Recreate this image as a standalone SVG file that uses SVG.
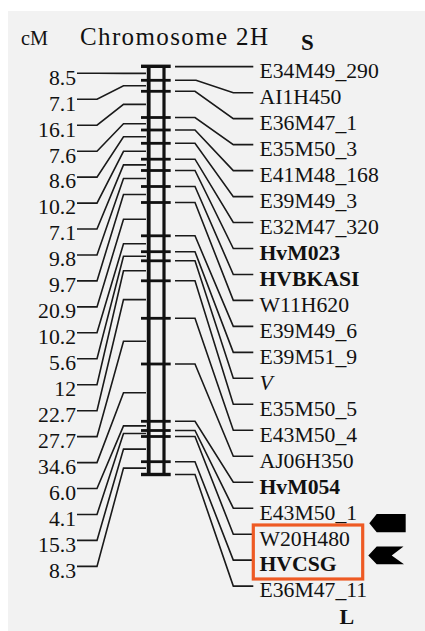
<svg xmlns="http://www.w3.org/2000/svg" width="425" height="631" viewBox="0 0 425 631">
<style>
text{font-family:"Liberation Serif","Times New Roman",serif;fill:#111}
.lb{font-size:21.7px}
.iv{font-size:21.7px;text-anchor:end}
.b{font-weight:bold}
.ld{fill:none;stroke:#1a1a1a;stroke-width:1.6;stroke-linejoin:miter}
.rail{stroke:#111;fill:none}
.tk{stroke:#111;stroke-width:2.8}
</style>
<rect x="8" y="11" width="417" height="620" fill="#f2f2f2"/>
<g id="header">
<text x="21" y="45" font-size="20" textLength="27" lengthAdjust="spacingAndGlyphs">cM</text>
<text x="80" y="45" font-size="25" textLength="188" lengthAdjust="spacing">Chromosome 2H</text>
<text x="301" y="50" font-size="23" class="b">S</text>
<text x="339.5" y="624" font-size="22" class="b">L</text>
</g>
<g id="chromosome">
<line class="rail" x1="148.7" y1="65" x2="148.7" y2="476" stroke-width="3.8"/>
<line class="rail" x1="164" y1="65" x2="164" y2="476" stroke-width="3.2"/>
<g class="tk">
<line x1="141" y1="66.3" x2="170.7" y2="66.3" stroke-width="3.4"/>
<line x1="141" y1="80.3" x2="170.7" y2="80.3"/>
<line x1="141" y1="91.3" x2="170.7" y2="91.3"/>
<line x1="141" y1="117.5" x2="170.7" y2="117.5"/>
<line x1="141" y1="130" x2="170.7" y2="130"/>
<line x1="141" y1="143.3" x2="170.7" y2="143.3"/>
<line x1="141" y1="159.2" x2="170.7" y2="159.2"/>
<line x1="141" y1="170.5" x2="170.7" y2="170.5"/>
<line x1="141" y1="186.5" x2="170.7" y2="186.5"/>
<line x1="141" y1="202.5" x2="170.7" y2="202.5"/>
<line x1="141" y1="235.8" x2="170.7" y2="235.8"/>
<line x1="141" y1="251.7" x2="170.7" y2="251.7"/>
<line x1="141" y1="260.8" x2="170.7" y2="260.8"/>
<line x1="141" y1="280.8" x2="170.7" y2="280.8"/>
<line x1="141" y1="318.3" x2="170.7" y2="318.3"/>
<line x1="141" y1="364" x2="170.7" y2="364"/>
<line x1="141" y1="421.3" x2="170.7" y2="421.3"/>
<line x1="141" y1="430.5" x2="170.7" y2="430.5"/>
<line x1="141" y1="436.5" x2="170.7" y2="436.5"/>
<line x1="141" y1="461.7" x2="170.7" y2="461.7"/>
<line x1="141" y1="474.5" x2="170.7" y2="474.5" stroke-width="3.4"/>
</g>
</g>
<g id="connectors" class="ld">
<polyline points="175,66.6 253.3,66.6"/>
<polyline points="175,80.3 196,80.3 233.3,92.7 253.3,92.7"/>
<polyline points="175,91.3 195,91.3 233.3,118.6 253.3,118.6"/>
<polyline points="175,117.5 195,117.5 233.3,144.6 253.3,144.6"/>
<polyline points="175,130 195,130 233.3,170.6 253.3,170.6"/>
<polyline points="175,143.3 195,143.3 233.3,196.6 253.3,196.6"/>
<polyline points="175,159.2 195,159.2 233.3,222.5 253.3,222.5"/>
<polyline points="175,170.5 195,170.5 233.3,248.5 253.3,248.5"/>
<polyline points="175,186.5 195,186.5 233.3,274.5 253.3,274.5"/>
<polyline points="175,202.5 195,202.5 233.3,300.4 253.3,300.4"/>
<polyline points="175,235.8 195,235.8 233.3,326.4 253.3,326.4"/>
<polyline points="175,251.7 195,251.7 233.3,352.4 253.3,352.4"/>
<polyline points="175,260.8 195,260.8 233.3,378.3 253.3,378.3"/>
<polyline points="175,280.8 195,280.8 233.3,404.3 253.3,404.3"/>
<polyline points="175,318.3 195,318.3 233.3,430.3 253.3,430.3"/>
<polyline points="175,364 195,364 233.3,456.3 253.3,456.3"/>
<polyline points="175,421.3 195,421.3 233.3,482.2 253.3,482.2"/>
<polyline points="175,430.5 195,430.5 233.3,508.2 253.3,508.2"/>
<polyline points="175,436.5 195,436.5 233.3,534.2 253.3,534.2"/>
<polyline points="175,461.7 195,461.7 233.3,560.1 253.3,560.1"/>
<polyline points="175,474.5 195,474.5 233.3,586.1 253.3,586.1"/>
<polyline points="77,73.3 97,73.3 123.5,73.4 146,73.4"/>
<polyline points="77,99.3 97,99.3 123.5,85.8 146,85.8"/>
<polyline points="77,125.2 97,125.2 123.5,104.4 146,104.4"/>
<polyline points="77,151.2 97,151.2 123.5,123.8 146,123.8"/>
<polyline points="77,177.1 97,177.1 123.5,136.7 146,136.7"/>
<polyline points="77,203.1 97,203.1 123.5,151.3 146,151.3"/>
<polyline points="77,229 97,229 123.5,164.9 146,164.9"/>
<polyline points="77,255 97,255 123.5,178.5 146,178.5"/>
<polyline points="77,280.9 97,280.9 123.5,194.5 146,194.5"/>
<polyline points="77,306.9 97,306.9 123.5,219.2 146,219.2"/>
<polyline points="77,332.8 97,332.8 123.5,243.8 146,243.8"/>
<polyline points="77,358.8 97,358.8 123.5,256.3 146,256.3"/>
<polyline points="77,384.7 97,384.7 123.5,270.8 146,270.8"/>
<polyline points="77,410.7 97,410.7 123.5,299.6 146,299.6"/>
<polyline points="77,436.6 97,436.6 123.5,341.2 146,341.2"/>
<polyline points="77,462.6 97,462.6 123.5,392.7 146,392.7"/>
<polyline points="77,488.5 97,488.5 123.5,425.9 146,425.9"/>
<polyline points="77,514.5 97,514.5 123.5,433.5 146,433.5"/>
<polyline points="77,540.4 97,540.4 123.5,449.1 146,449.1"/>
<polyline points="77,566.4 97,566.4 123.5,468.1 146,468.1"/>
</g>
<g id="intervals">
<g id="iv-0"><text class="iv" x="76" y="84.6">8.5</text></g>
<g id="iv-1"><text class="iv" x="76" y="110.6">7.1</text></g>
<g id="iv-2"><text class="iv" x="76" y="136.5">16.1</text></g>
<g id="iv-3"><text class="iv" x="76" y="162.5">7.6</text></g>
<g id="iv-4"><text class="iv" x="76" y="188.4">8.6</text></g>
<g id="iv-5"><text class="iv" x="76" y="214.4">10.2</text></g>
<g id="iv-6"><text class="iv" x="76" y="240.3">7.1</text></g>
<g id="iv-7"><text class="iv" x="76" y="266.3">9.8</text></g>
<g id="iv-8"><text class="iv" x="76" y="292.2">9.7</text></g>
<g id="iv-9"><text class="iv" x="76" y="318.2">20.9</text></g>
<g id="iv-10"><text class="iv" x="76" y="344.1">10.2</text></g>
<g id="iv-11"><text class="iv" x="76" y="370.1">5.6</text></g>
<g id="iv-12"><text class="iv" x="76" y="396">12</text></g>
<g id="iv-13"><text class="iv" x="76" y="422">22.7</text></g>
<g id="iv-14"><text class="iv" x="76" y="447.9">27.7</text></g>
<g id="iv-15"><text class="iv" x="76" y="473.9">34.6</text></g>
<g id="iv-16"><text class="iv" x="76" y="499.8">6.0</text></g>
<g id="iv-17"><text class="iv" x="76" y="525.8">4.1</text></g>
<g id="iv-18"><text class="iv" x="76" y="551.7">15.3</text></g>
<g id="iv-19"><text class="iv" x="76" y="577.7">8.3</text></g>
</g>
<g id="markers">
<g id="mk-E34M49_290"><text class="lb" x="259.5" y="78">E34M49_290</text></g>
<g id="mk-AI1H450"><text class="lb" x="259.5" y="104">AI1H450</text></g>
<g id="mk-E36M47_1"><text class="lb" x="259.5" y="129.9">E36M47_1</text></g>
<g id="mk-E35M50_3"><text class="lb" x="259.5" y="155.9">E35M50_3</text></g>
<g id="mk-E41M48_168"><text class="lb" x="259.5" y="181.9">E41M48_168</text></g>
<g id="mk-E39M49_3"><text class="lb" x="259.5" y="207.9">E39M49_3</text></g>
<g id="mk-E32M47_320"><text class="lb" x="259.5" y="233.8">E32M47_320</text></g>
<g id="mk-HvM023"><text class="lb b" x="259.5" y="259.8">HvM023</text></g>
<g id="mk-HVBKASI"><text class="lb b" x="259.5" y="285.8">HVBKASI</text></g>
<g id="mk-W11H620"><text class="lb" x="259.5" y="311.7">W11H620</text></g>
<g id="mk-E39M49_6"><text class="lb" x="259.5" y="337.7">E39M49_6</text></g>
<g id="mk-E39M51_9"><text class="lb" x="259.5" y="363.7">E39M51_9</text></g>
<g id="mk-V"><text class="lb" x="259.5" y="389.6" font-style="italic">V</text></g>
<g id="mk-E35M50_5"><text class="lb" x="259.5" y="415.6">E35M50_5</text></g>
<g id="mk-E43M50_4"><text class="lb" x="259.5" y="441.6">E43M50_4</text></g>
<g id="mk-AJ06H350"><text class="lb" x="259.5" y="467.6">AJ06H350</text></g>
<g id="mk-HvM054"><text class="lb b" x="259.5" y="493.5">HvM054</text></g>
<g id="mk-E43M50_1"><text class="lb" x="259.5" y="519.5">E43M50_1</text></g>
<g id="mk-W20H480"><text class="lb" x="259.5" y="545.5">W20H480</text></g>
<g id="mk-HVCSG"><text class="lb b" x="259.5" y="571.4">HVCSG</text></g>
<g id="mk-E36M47_11"><text class="lb" x="259.5" y="597.4">E36M47_11</text></g>
</g>
<g id="highlight">
<rect x="253.3" y="525" width="109.4" height="54" fill="none" stroke="#ee5a24" stroke-width="3.2"/>
</g>
<g id="arrow-1"><polygon points="369.3,523.3 376.7,514 405.7,514 405.7,532.3 376.7,532.3" fill="#000"/></g>
<g id="arrow-2"><polygon points="368.3,555.5 376.7,546.5 403.5,546.5 391.7,555.5 404,564.3 376.7,564.3" fill="#000"/></g>
</svg>
